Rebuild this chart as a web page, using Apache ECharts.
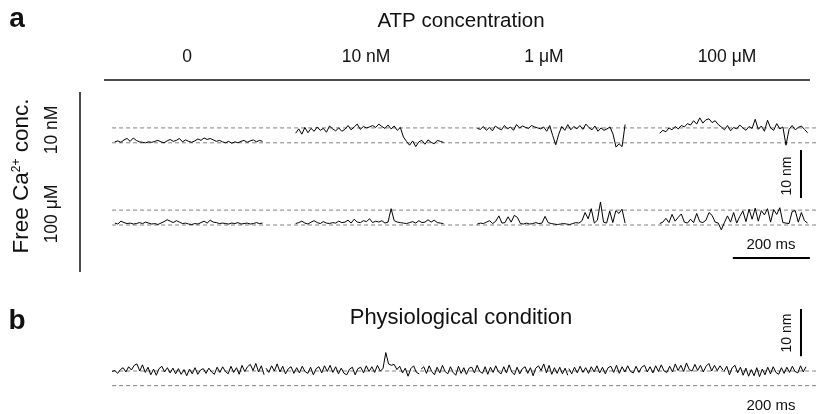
<!DOCTYPE html>
<html><head><meta charset="utf-8">
<script src="https://cdn.jsdelivr.net/npm/echarts@6/dist/echarts.min.js"></script>
<style>html,body{margin:0;padding:0;background:#fff}#c{width:818px;height:414px}</style>
</head><body><div id="c"></div>
<script>
// ---------- data ----------
const COLUMNS = ['0', '10 nM', '1 μM', '100 μM'];
const ROW_LABELS = ['10 nM', '100 μM'];
const SEG_START_MS = [28, 498, 970, 1444];
const SEG_DUR_MS = 384;
const LEVELS_NM = [0, 3.1];
const DASH_RANGE_MS = [21, 1850];

// Free Ca 10 nM row (nm)
const R1_0 = [0.2,0.4,0.1,0.6,0.9,0.3,1.0,0.5,0.2,0.1,0.0,0.2,0.1,0.3,0.5,0.2,0.0,0.4,0.7,0.3,0.5,0.9,0.2,0.6,0.3,0.1,0.4,0.8,0.5,1.0,0.7,0.9,0.6,0.3,0.5,0.2,0.0,0.3,-0.1,0.2,0.0,0.3,0.5,0.1,0.4,0.6,0.2,0.5,0.3];
const R1_1 = [2.0,2.9,1.8,3.2,2.1,3.0,2.4,3.3,2.6,3.0,2.2,3.5,2.9,2.5,3.1,2.4,2.8,3.6,2.7,3.3,3.9,2.8,3.4,3.1,3.3,3.6,3.2,3.9,3.4,3.0,3.7,2.9,3.5,2.6,3.2,1.2,0.3,-0.5,0.4,-0.8,0.2,0.5,-0.3,0.6,0.1,-0.2,0.5,0.3,0.1];
const R1_2 = [3.0,2.8,3.4,2.6,3.2,2.5,3.5,3.0,2.7,3.6,2.9,3.3,2.6,3.8,3.1,3.5,3.2,3.0,3.6,3.3,3.1,2.9,3.3,2.4,3.6,1.5,-0.4,1.8,3.4,2.6,3.8,2.7,3.4,2.9,3.6,2.8,3.9,3.2,2.7,3.5,2.4,3.1,2.6,2.9,3.3,1.8,-0.9,-0.2,-0.8,3.8];
const R1_3 = [2.0,2.6,2.3,3.1,2.7,3.4,2.9,3.6,3.3,4.0,3.7,4.6,3.9,5.2,4.1,4.8,5.0,4.2,4.6,3.8,3.3,2.7,3.6,2.5,3.2,2.9,3.7,3.1,2.6,3.4,3.0,4.9,2.8,3.5,2.4,4.7,3.1,2.6,4.0,2.9,3.3,-0.5,2.8,3.6,2.7,3.2,3.5,2.8,2.1];

// Free Ca 100 uM row (nm)
const R2_0 = [0.4,0.2,0.8,0.5,0.3,0.4,0.2,0.3,0.5,0.3,0.6,0.4,0.2,0.3,0.1,0.4,0.7,1.1,0.8,0.5,0.9,0.6,0.3,0.4,0.2,0.1,0.3,0.2,0.5,0.8,0.4,1.0,0.6,0.5,0.3,0.4,0.3,0.2,0.4,0.3,0.5,0.2,0.3,0.4,0.2,0.3,0.5,0.3,0.4];
const R2_1 = [0.3,0.5,0.8,0.4,0.2,0.6,0.9,0.5,0.3,0.7,0.4,0.3,0.5,0.4,0.8,0.5,0.6,1.0,0.4,1.2,0.6,0.5,0.9,0.7,1.3,0.5,0.8,0.6,0.9,0.4,0.6,3.4,0.9,0.6,0.5,0.4,0.3,0.5,0.7,0.4,0.9,0.5,0.6,1.1,0.6,1.0,0.5,0.4,0.3];
const R2_2 = [0.2,0.4,0.3,0.6,0.9,0.3,0.8,1.9,0.4,0.5,1.7,0.6,2.0,1.6,0.3,0.2,0.4,0.2,0.3,0.5,0.3,0.4,1.8,0.5,0.3,0.2,0.1,0.2,0.3,0.2,0.1,0.3,0.5,0.4,0.9,2.6,1.3,3.4,0.4,1.0,4.8,0.6,0.4,2.9,0.5,3.0,2.4,3.3,0.4];
const R2_3 = [0.3,0.6,1.4,0.5,2.2,0.8,1.6,2.3,0.6,0.4,1.2,0.5,2.4,0.7,0.5,1.0,2.6,2.0,0.6,0.4,-1.0,0.5,1.9,0.6,2.6,0.4,1.8,2.9,0.7,3.3,1.2,3.5,0.8,3.0,2.1,3.4,0.6,3.2,2.2,3.6,0.5,0.4,0.3,2.8,3.0,0.6,2.6,0.9,0.4];

// Physiological condition (nm), five recorded pieces
const PHYS_START_MS = [21, 421, 824, 1208, 1611];
const PHYS_END_MS = [416, 819, 1205, 1608, 1824];
const P0 = [3.0,3.2,2.6,3.4,3.8,2.9,4.0,3.3,4.3,4.6,3.1,4.4,2.8,3.9,2.3,3.5,2.2,3.6,4.1,2.9,3.8,2.7,3.7,2.5,3.6,2.4,3.4,2.1,3.5,2.5,3.8,2.4,3.3,3.6,2.6,3.7,2.9,2.4,3.9,2.8,4.0,3.0,2.5,4.1,2.8,3.8,2.4,4.3,3.0,4.0,4.5,3.2,4.7,2.9,4.2,2.3];
const P1 = [3.7,2.8,4.2,3.1,4.6,2.9,4.1,2.5,3.6,4.0,2.6,3.8,2.7,4.1,3.0,2.6,3.9,2.3,3.6,4.0,2.7,4.2,3.0,4.3,2.8,4.0,2.5,3.7,2.6,2.3,3.5,3.9,2.3,3.6,3.9,2.7,4.2,3.0,4.0,2.8,4.3,3.1,3.6,7.0,4.6,4.3,4.5,3.4,4.1,2.7,3.7,2.0,3.6,4.2,2.8,2.5];
const P2 = [3.5,4.0,2.6,4.2,3.0,2.3,3.9,2.7,4.3,3.0,2.5,4.0,2.8,2.2,4.1,2.6,3.8,2.4,3.7,3.9,2.7,4.3,3.0,2.6,4.0,2.4,3.9,2.8,4.2,2.9,2.5,4.0,2.7,4.4,2.9,2.3,3.9,2.5,3.6,4.0,2.6,3.8,2.1,3.7,4.2,3.2,4.6,2.7,4.3,2.4,3.8,2.6,3.9,2.5,3.7,2.2];
const P3 = [3.6,2.5,3.9,2.7,4.1,2.8,3.8,2.6,4.0,2.9,4.2,2.7,3.9,2.5,3.8,4.1,2.8,4.3,2.6,4.0,2.9,4.2,3.0,2.7,4.1,2.8,3.9,4.3,2.9,4.0,2.7,4.2,3.0,4.4,3.1,2.8,4.1,2.9,4.6,3.2,4.3,3.0,4.8,3.4,3.1,4.5,3.2,4.3,2.9,4.1,4.7,3.1,4.3,3.2,4.2,3.3];
const P4 = [3.0,4.1,2.3,3.8,4.3,2.7,3.9,2.2,3.7,2.0,3.4,2.1,3.8,1.9,3.5,2.3,3.9,2.5,4.0,2.8,2.4,3.8,2.6,3.9,2.8,4.1,3.0,2.7,4.2,2.9,4.0];

// scale bars
const SCALE_NM = 10;
const SCALE_MS = 200;

// ---------- build ----------
const FONT = "'Liberation Sans', Arial, Helvetica, sans-serif";
const TRACE = { color: '#000', width: 1 };
const DASH = { color: '#808080', width: 1, type: [4, 3] };

function seg(t0, t1, vals) {
  const n = vals.length;
  return vals.map((v, i) => [t0 + (t1 - t0) * i / (n - 1), v]);
}
function lineSeries(grid, data, style) {
  return { type: 'line', xAxisIndex: grid, yAxisIndex: grid, data: data, symbol: 'none',
    showSymbol: false, silent: true, animation: false, lineStyle: style, z: 3 };
}

const rows = [[R1_0, R1_1, R1_2, R1_3], [R2_0, R2_1, R2_2, R2_3]];
const series = [];
[0, 1, 2].forEach(g => {
  LEVELS_NM.forEach(l => series.push(lineSeries(g, [[DASH_RANGE_MS[0], l], [DASH_RANGE_MS[1], l]], DASH)));
});
rows.forEach((r, g) => r.forEach((vals, k) =>
  series.push(lineSeries(g, seg(SEG_START_MS[k], SEG_START_MS[k] + SEG_DUR_MS, vals), TRACE))));
[P0, P1, P2, P3, P4].forEach((vals, k) =>
  series.push(lineSeries(2, seg(PHYS_START_MS[k], PHYS_END_MS[k], vals), TRACE)));

// scale bars (anchored in data units)
const BAR = { color: '#000', width: 2 };
const BAR_X = 1811;
series.push(lineSeries(0, [[BAR_X, -1.5], [BAR_X, -1.5 - SCALE_NM]], BAR));
series.push(lineSeries(1, [[1634, -6.9], [1634 + SCALE_MS, -6.9]], BAR));
series.push(lineSeries(2, [[BAR_X, 6.2], [BAR_X, 6.2 + SCALE_NM]], BAR));

const grids = [
  { left: 104, width: 712, top: 104.4, height: 96 },
  { left: 104, width: 712, top: 167.4, height: 96 },
  { left: 104, width: 712, top: 300.6, height: 115.2 }
];
const yr = [[-12, 8], [-8, 12], [-6, 18]];
const xAxes = grids.map((g, i) => ({ type: 'value', gridIndex: i, min: 0, max: 1850, show: false }));
const yAxes = grids.map((g, i) => ({ type: 'value', gridIndex: i, min: yr[i][0], max: yr[i][1], show: false }));

function txt(x, y, text, size, extra) {
  return Object.assign({ type: 'text', x: x, y: y, silent: true,
    style: Object.assign({ text: text, font: size + 'px ' + FONT, fill: '#111', align: 'center', verticalAlign: 'middle' }, extra || {}) });
}
const COL_X = [187, 366, 544, 727];
const graphic = [
  txt(17, 19, 'a', 28, { font: 'bold 28px ' + FONT }),
  txt(461, 21, 'ATP concentration', 20.5),
  ...COLUMNS.map((c, i) => txt(COL_X[i], 57, c, 17.5)),
  { type: 'line', silent: true, shape: { x1: 104, y1: 80, x2: 810, y2: 80 }, style: { stroke: '#111', lineWidth: 1.5 } },
  { type: 'line', silent: true, shape: { x1: 80, y1: 92, x2: 80, y2: 272 }, style: { stroke: '#111', lineWidth: 1.5 } },
  { type: 'text', x: 22, y: 176, rotation: Math.PI / 2, silent: true,
    style: { text: '{a|Free Ca}{s|2+}{a| conc.}', align: 'center', verticalAlign: 'middle', fill: '#111',
      rich: { a: { fontSize: 22.5, fontFamily: FONT, fill: '#111' },
              s: { fontSize: 12, fontFamily: FONT, fill: '#111', verticalAlign: 'top', padding: [0, 0, 11, 0] } } } },
  Object.assign(txt(52, 130, ROW_LABELS[0], 17.5), { rotation: Math.PI / 2 }),
  Object.assign(txt(52, 214, ROW_LABELS[1], 17.5), { rotation: Math.PI / 2 }),
  Object.assign(txt(787, 176, SCALE_NM + ' nm', 14), { rotation: Math.PI / 2 }),
  txt(771, 245, SCALE_MS + ' ms', 15),
  txt(17, 321, 'b', 28, { font: 'bold 28px ' + FONT }),
  txt(461, 318, 'Physiological condition', 22),
  Object.assign(txt(787, 333, SCALE_NM + ' nm', 14), { rotation: Math.PI / 2 }),
  txt(771, 406, SCALE_MS + ' ms', 15)
];

const chart = echarts.init(document.getElementById('c'), null, { renderer: 'canvas' });
chart.setOption({
  animation: false,
  backgroundColor: '#fff',
  grid: grids,
  xAxis: xAxes,
  yAxis: yAxes,
  series: series,
  graphic: graphic
});
</script>
</body></html>
